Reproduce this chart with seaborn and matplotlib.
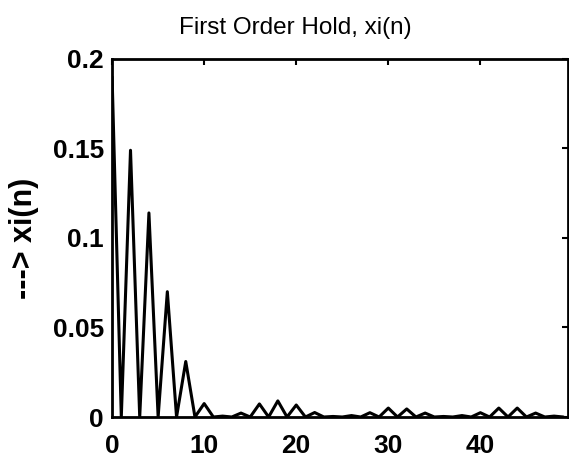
import numpy as np
import pandas as pd
import seaborn as sns
import matplotlib
matplotlib.use("Agg")
import matplotlib.pyplot as plt

# sample index and interpolated signal values
n = list(range(50))
peaks = {0: 0.19, 2: 0.149, 4: 0.114, 6: 0.070, 8: 0.031, 10: 0.0075,
         12: 0.0005, 14: 0.0022, 16: 0.0073, 18: 0.009, 20: 0.0067,
         22: 0.0025, 24: 0.0003, 26: 0.0008, 28: 0.0024, 30: 0.005,
         32: 0.0045, 34: 0.0022, 36: 0.0003, 38: 0.0008, 40: 0.0024,
         42: 0.005, 44: 0.005, 46: 0.0022, 48: 0.0005}
xi = [peaks.get(k, 0.0) for k in n]

df = pd.DataFrame({"n": n, "xi": xi})

sns.set_style("white")
plt.rcParams['font.family'] = ['Liberation Sans', 'DejaVu Sans']
plt.rcParams['text.color'] = 'black'

fig = plt.figure(figsize=(5.69, 4.59), dpi=100)
ax = fig.add_axes([0.197, 0.0915, 0.801, 0.78])
sns.lineplot(x="n", y="xi", data=df, color="black", linewidth=2.2, ax=ax)

ax.set_xlim(0, 49.5)
ax.set_ylim(0, 0.2)
ax.set_xticks([0, 10, 20, 30, 40])
ax.set_yticks([0, 0.05, 0.1, 0.15, 0.2])
ax.set_yticklabels(["0", "0.05", "0.1", "0.15", "0.2"])
ax.tick_params(direction="in", length=4, width=1.5, top=True, right=True,
               labelsize=19, colors="black")
ax.tick_params(axis="x", pad=12)
ax.tick_params(axis="y", pad=6)
for lab in ax.get_xticklabels() + ax.get_yticklabels():
    lab.set_fontweight("bold")
for s in ax.spines.values():
    s.set_color("black")
    s.set_linewidth(2.0)

ax.set_title("First Order Hold, xi(n)", fontsize=17.5, x=0.401, pad=18,
             color="black")
ax.set_xlabel("")
ax.set_ylabel("---> xi(n)", fontsize=22, fontweight="bold", labelpad=10,
              color="black")

fig.savefig("out.png", dpi=100)
